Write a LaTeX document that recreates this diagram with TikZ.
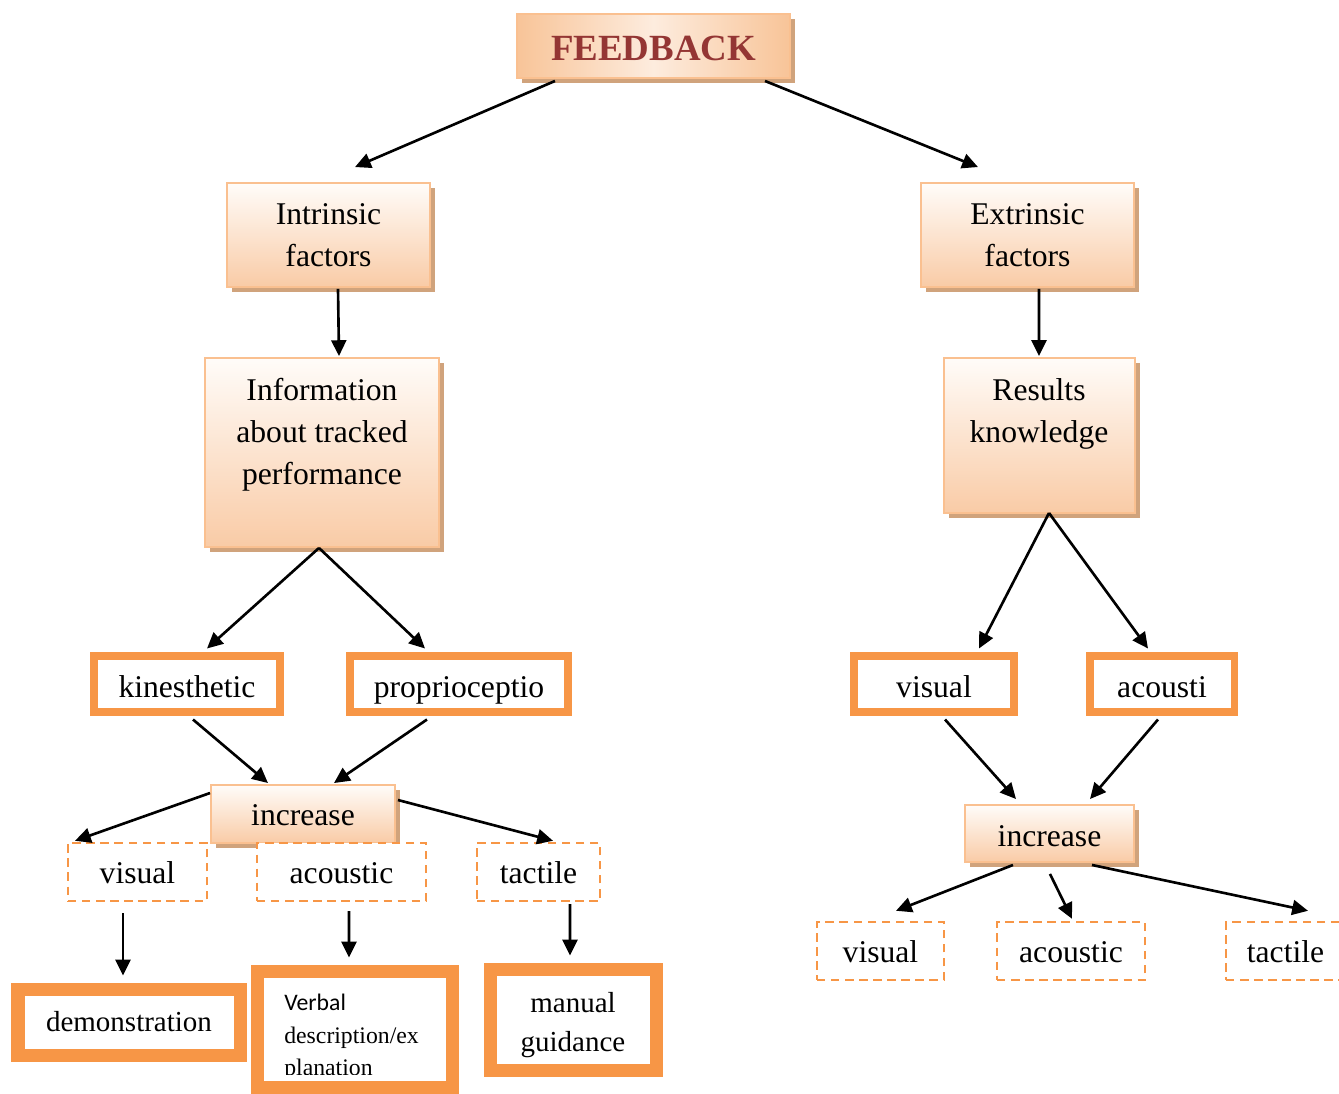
\documentclass[tikz,border=0pt]{standalone}
\usepackage{fontspec}
\setmainfont{Liberation Serif}
\newfontfamily\verbalfont{Carlito}
\usetikzlibrary{arrows.meta,shadows,calc}
\definecolor{peach}{RGB}{249,203,166}
\definecolor{gtop}{RGB}{255,252,249}
\definecolor{peachline}{RGB}{250,192,144}
\definecolor{shadowtan}{RGB}{208,163,124}
\definecolor{frameorange}{RGB}{247,150,70}
\definecolor{fbred}{RGB}{148,54,52}
\definecolor{fbmid}{RGB}{253,236,222}
\definecolor{fbedge}{RGB}{248,196,152}
\newcommand\mainsz{\fontsize{18}{23.8}\selectfont}
\newcommand\smallsz{\fontsize{16.5}{22}\selectfont}
\newcommand\verbsz{\fontsize{13.5}{18.7}\selectfont}
\newcommand\mybox[7]{\node[#1, minimum width={(#4-#2)*0.02cm}, minimum height={(#5-#3)*0.02cm}] (#6) at ({(#2+#4)/2},{(#3+#5)/2}) {#7};}
\tikzset{
  gbox/.style={draw=peachline, line width=1.1pt, top color=gtop, bottom color=peach,
    drop shadow={shadow xshift=0.09cm, shadow yshift=-0.09cm, fill=shadowtan, opacity=1},
    inner sep=0pt, align=center, font=\mainsz},
  fbbox/.style={gbox, left color=fbedge, right color=fbedge, middle color=fbmid},
  oframe/.style={draw=frameorange, fill=white, line width=4pt, inner sep=0pt, align=center, font=\mainsz,
    text height=19.2pt, text depth=4pt},
  bigframe/.style={draw=frameorange, fill=white, line width=7.4pt, inner sep=0pt, align=center, font=\smallsz},
  dbox/.style={draw=frameorange, fill=white, line width=1.4pt, dash pattern=on 4.8pt off 3.2pt, inner sep=0pt, font=\mainsz,
    text height=16.6pt, text depth=4pt},
  arr/.style={line width=1.5pt, -{Triangle[length=9pt,width=8.5pt]}},
  txt/.style={inner sep=0pt, align=center, font=\mainsz},
}
\begin{document}
\begin{tikzpicture}[x=0.02cm,y=-0.02cm]
\useasboundingbox (0,0) rectangle (1339,1093);
\clip (0,0) rectangle (1339,1093);
% gradient boxes
\mybox{fbbox, font=\fontsize{21}{24}\selectfont\bfseries, text=fbred, text height=16pt, text depth=0pt}{517}{14}{790}{78}{fb}{FEEDBACK}
\mybox{gbox}{227}{183}{430}{287}{intr}{Intrinsic\\factors}
\mybox{gbox}{921}{183}{1134}{287}{extr}{Extrinsic\\factors}
\mybox{gbox}{205}{358}{439}{547}{info}{}
\node[txt] (infot) at (322,435) {Information\\about tracked\\performance};
\mybox{gbox}{944}{358}{1135}{513}{res}{}
\node[txt] (rest) at (1039,414) {Results\\knowledge};
% orange frames
\mybox{oframe}{94}{656}{280}{712}{kin}{kinesthetic}
\mybox{oframe}{350}{656}{568}{712}{prop}{proprioceptio}
\mybox{oframe}{854}{656}{1014}{712}{visR}{visual}
\mybox{oframe}{1090}{656}{1234}{712}{acoR}{acousti}
% increase boxes
\mybox{gbox, text height=16.8pt, text depth=4pt}{211}{785}{395}{843}{incL}{increase}
\mybox{gbox, text height=19.2pt, text depth=4pt}{965}{805}{1134}{862}{incR}{increase}
% dashed boxes
\mybox{dbox}{68}{843}{207}{901}{visL}{visual}
\mybox{dbox}{257}{843}{426}{901}{acoL}{acoustic}
\mybox{dbox}{477}{843}{600}{901}{tacL}{tactile}
\mybox{dbox}{817}{922}{944}{980}{visD}{visual}
\mybox{dbox}{997}{922}{1145}{980}{acoD}{acoustic}
\mybox{dbox}{1226}{922}{1345}{980}{tacD}{tactile}
% bottom frames
\mybox{bigframe}{18}{989}{240}{1055}{demo}{demonstration}
\mybox{bigframe}{257}{971}{452}{1087}{verb}{}
\mybox{bigframe}{490}{969}{656}{1070}{man}{}
\node[txt, font=\fontsize{16.5}{22.4}\selectfont] (mant) at (573,1025) {manual\\guidance};
\begin{scope}
  \clip (265,978) rectangle (446,1074);
  \node[inner sep=0pt, anchor=base west, font=\verbsz\verbalfont] (v1) at (284,1010) {Verbal};
  \node[inner sep=0pt, anchor=base west, font=\verbsz] (v2) at (284,1043) {description/ex};
  \node[inner sep=0pt, anchor=base west, font=\verbsz] (v3) at (284,1075) {planation};
\end{scope}
% arrows
\draw[arr] ($(fb.south)+(-98.5,2)$) -- ($(intr.north)+(26.5,-15)$);
\draw[arr] ($(fb.south)+(111.5,2)$) -- ($(extr.north)+(-49.5,-15)$);
\draw[arr] ($(intr.south)+(9.5,1)$) -- ($(info.north)+(17,-1)$);
\draw[arr] ($(extr.south)+(11.5,1)$) -- ($(res.north)+(-0.5,-1)$);
\draw[arr] ($(info.south)+(-3,0)$) -- ($(kin.north)+(20,-4)$);
\draw[arr] ($(info.south)+(-3,0)$) -- ($(prop.north)+(-34,-4)$);
\draw[arr] ($(res.south)+(9.5,-1)$) -- ($(visR.north)+(45,-4)$);
\draw[arr] ($(res.south)+(9.5,-1)$) -- ($(acoR.north)+(-14,-4)$);
\draw[arr] ($(kin.south)+(6,4)$) -- ($(incL.north)+(-35,-1)$);
\draw[arr] ($(prop.south)+(-32,4)$) -- ($(incL.north)+(31,-1)$);
\draw[arr] ($(incL.west)+(0,-21)$) -- ($(visL.north)+(-62.5,-1)$);
\draw[arr] ($(incL.east)+(2,-14)$) -- ($(tacL.north)+(14.5,-1)$);
\draw[arr] ($(visL.south)+(-14.5,11)$) -- ($(demo.north)+(-6,-7)$);
\draw[arr] ($(acoL.south)+(7.5,9)$) -- ($(verb.north)+(-5.5,-7)$);
\draw[arr] ($(tacL.south)+(31.5,2)$) -- ($(man.north)+(-3,-7)$);
\draw[arr] ($(visR.south)+(11,4)$) -- ($(incR.north)+(-33.5,-5)$);
\draw[arr] ($(acoR.south)+(-4,4)$) -- ($(incR.north)+(40.5,-5)$);
\draw[arr] ($(incR.south)+(-36.5,2)$) -- ($(visD.north)+(15.5,-10)$);
\draw[arr] ($(incR.south)+(0.5,11)$) -- ($(acoD.north)+(1,-2)$);
\draw[arr] ($(incR.south)+(42.5,2)$) -- ($(tacD.north)+(22.5,-10)$);
\end{tikzpicture}
\end{document}
